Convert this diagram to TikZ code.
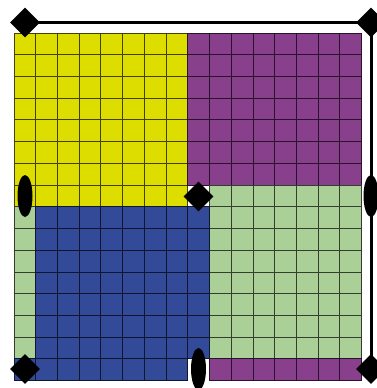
\documentclass[tikz,border=0pt]{standalone}
\usetikzlibrary{shapes.geometric}
\definecolor{cyel}{RGB}{221,221,0}
\definecolor{cpur}{RGB}{136,64,140}
\definecolor{cblu}{RGB}{50,74,152}
\definecolor{cgrn}{RGB}{170,208,152}
\begin{document}
\begin{tikzpicture}[x=1pt,y=-1pt,
  mkdiamond/.style={diamond,fill=black,draw=none,minimum width=30pt,minimum height=30pt,inner sep=0pt},
  mkoval/.style={ellipse,fill=black,draw=none,minimum width=15pt,minimum height=42pt,inner sep=0pt},
  frameline/.style={draw=black,line width=3pt}]
\useasboundingbox (0,0) rectangle (377,388);
\clip (0,0) rectangle (377,388);
\def\cs{21.72}
\foreach \ca/\cb/\ra/\rb/\col in {0/7/0/7/cyel, 8/15/0/6/cpur, 9/15/7/14/cgrn, 0/0/8/14/cgrn, 1/8/8/14/cblu, 0/7/15/15/cblu, 9/15/15/15/cpur}{
  \foreach \i in {\ca,...,\cb}{
    \foreach \j in {\ra,...,\rb}{
      \path[fill=\col, draw=black!70!\col, line width=0.8pt] ({14+\i*\cs},{33+\j*\cs}) rectangle ++(\cs,\cs);
    }
  }
}
\node[mkdiamond] (tl) at (25,22.5) {};
\node[mkdiamond] (tr) at (371,22.5) {};
\node[mkdiamond] (bl) at (25,369) {};
\node[mkdiamond] (br) at (371,369) {};
\node[mkdiamond] (mid) at (198.5,196.5) {};
\node[mkoval] (lo) at (25,196) {};
\node[mkoval] (ro) at (371,196) {};
\node[mkoval] (bo) at (198.5,369) {};
\draw[frameline] (tl.center) -- (tr.center) -- (br.center);
\end{tikzpicture}
\end{document}
